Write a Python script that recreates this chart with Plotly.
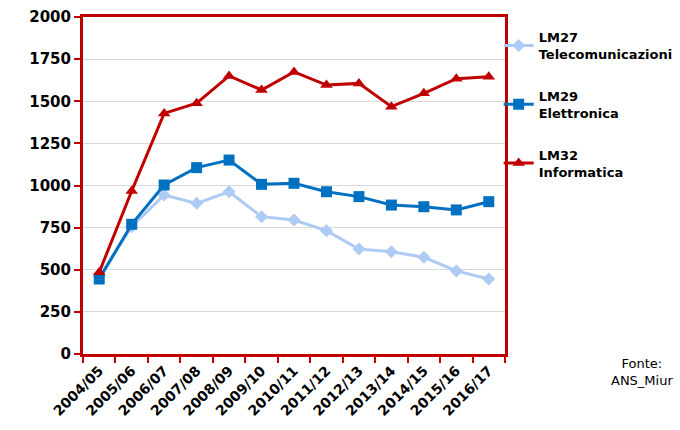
import plotly.graph_objects as go

years = ["2004/05", "2005/06", "2006/07", "2007/08", "2008/09", "2009/10", "2010/11",
         "2011/12", "2012/13", "2013/14", "2014/15", "2015/16", "2016/17"]
lm27 = [460, 755, 944, 894, 963, 815, 795, 732, 623, 607, 574, 493, 445]
lm29 = [445, 770, 1003, 1106, 1151, 1007, 1013, 963, 934, 884, 874, 855, 904]
lm32 = [485, 967, 1428, 1488, 1650, 1567, 1674, 1596, 1606, 1468, 1547, 1634, 1646]
y_ticks = [0, 250, 500, 750, 1000, 1250, 1500, 1750, 2000]

RED = "#C00000"
BLUE = "#0070C0"
LIGHT = "#AECBF5"
FONT = "DejaVu Sans"

fig = go.Figure()
fig.add_trace(go.Scatter(x=years, y=lm27, mode="lines+markers", name="LM27<br>Telecomunicazioni",
                         legendgroup="a",
                         line=dict(color=LIGHT, width=3),
                         marker=dict(symbol="diamond", size=10, color=LIGHT)))
fig.add_trace(go.Scatter(x=years, y=lm29, mode="lines+markers", name="LM29<br>Elettronica",
                         legendgroup="b",
                         line=dict(color=BLUE, width=3),
                         marker=dict(symbol="square", size=11, color=BLUE)))
fig.add_trace(go.Scatter(x=years, y=lm32, mode="lines+markers", name="LM32<br>Informatica",
                         legendgroup="c",
                         line=dict(color=RED, width=3),
                         marker=dict(symbol="triangle-up", size=11, color=RED)))

fig.update_layout(
    width=680, height=430,
    margin=dict(l=83, r=175, t=17, b=76, autoexpand=False),
    paper_bgcolor="white", plot_bgcolor="white",
    font=dict(family=FONT, size=14, color="black", weight="bold"),
    showlegend=True,
    legend=dict(x=0.985, y=0.985, xanchor="left", yanchor="top",
                font=dict(family=FONT, size=13, weight="bold"),
                tracegroupgap=22, itemwidth=30, bgcolor="rgba(0,0,0,0)"),
    annotations=[dict(text="Fonte:<br>ANS_Miur", xref="paper", yref="paper",
                      x=1.325, y=0.0, xanchor="center", yanchor="top", showarrow=False,
                      align="center", font=dict(family=FONT, size=13, weight="normal"))],
)
fig.update_xaxes(
    type="category", range=[-0.5, 12.5], tickangle=-45, tickson="boundaries",
    showline=True, linecolor=RED, linewidth=3, mirror=True, automargin=False,
    ticks="outside", tickcolor=RED, ticklen=6, tickwidth=2,
    showgrid=False, tickfont=dict(size=14, weight="bold"),
)
fig.update_yaxes(
    range=[0, 2000], tickvals=y_ticks, automargin=False,
    showline=True, linecolor=RED, linewidth=3, mirror=True,
    ticks="outside", tickcolor=RED, ticklen=6, tickwidth=2,
    showgrid=True, gridcolor="#D9D9D9", gridwidth=1, zeroline=False,
    tickfont=dict(size=15, weight="bold"),
)
fig.write_html("out.html", config={"displayModeBar": False},
               post_script="document.body.style.margin='0';")
